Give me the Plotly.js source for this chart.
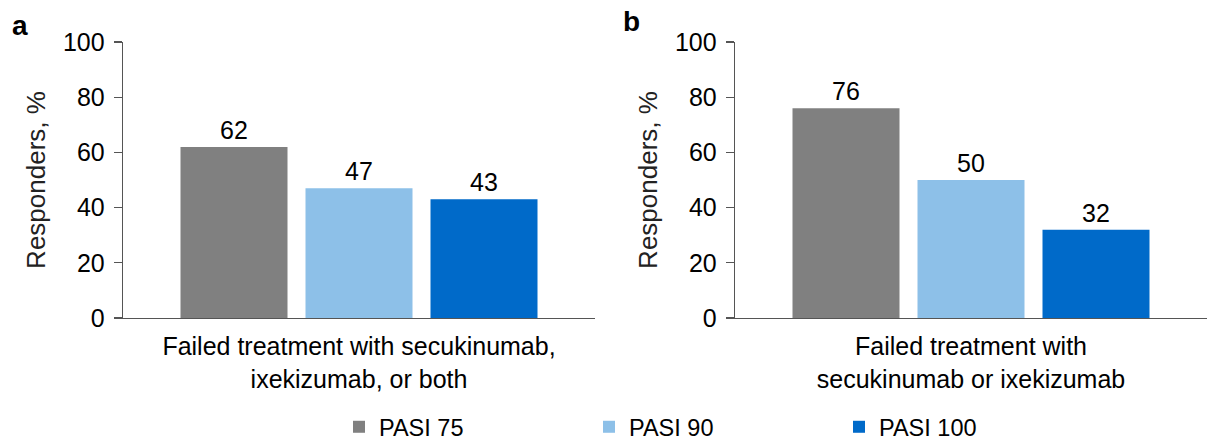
<!DOCTYPE html>
<html>
<head>
<meta charset="utf-8">
<script src="https://cdn.plot.ly/plotly-3.0.1.min.js"></script>
<style>html,body{margin:0;padding:0;background:#fff}#chart{width:1207px;height:444px}</style>
</head>
<body>
<div id="chart"></div>
<script>
// Data
const seriesNames = ['PASI 75', 'PASI 90', 'PASI 100'];
const seriesColors = ['#808080', '#8DC0E8', '#006AC9'];
const catA = ['Failed treatment with secukinumab,<br>ixekizumab, or both'];
const catB = ['Failed treatment with<br>secukinumab or ixekizumab'];
const valuesA = [62, 47, 43];
const valuesB = [76, 50, 32];
const yTickVals = [0, 20, 40, 60, 80, 100];
const yTitle = 'Responders, %';
const panelLabels = ['a', 'b'];

const FONT = '"Liberation Sans", Arial, sans-serif';
const traces = [];
seriesNames.forEach((name, i) => {
  traces.push({
    type: 'bar', name: name, x: catA, y: [valuesA[i]],
    xaxis: 'x', yaxis: 'y',
    marker: {color: seriesColors[i]},
    text: [String(valuesA[i])], textposition: 'outside', cliponaxis: false,
    textfont: {family: FONT, size: 25, color: '#000'},
    legendgroup: name, showlegend: true, hoverinfo: 'none'
  });
  traces.push({
    type: 'bar', name: name, x: catB, y: [valuesB[i]],
    xaxis: 'x2', yaxis: 'y2',
    marker: {color: seriesColors[i]},
    text: [String(valuesB[i])], textposition: 'outside', cliponaxis: false,
    textfont: {family: FONT, size: 25, color: '#000'},
    legendgroup: name, showlegend: false, hoverinfo: 'none'
  });
});

const yDomain = [1 - 318 / 444, 1 - 42 / 444];
function yAxis(anchor) {
  return {
    anchor: anchor, domain: yDomain, range: [0, 100],
    tickvals: yTickVals, ticks: 'outside', ticklen: 8, tickwidth: 1.3, tickcolor: '#555',
    showline: true, linecolor: '#555', linewidth: 1.3,
    showgrid: false, zeroline: false,
    tickfont: {family: FONT, size: 25, color: '#000'}, ticklabelstandoff: 4,
    title: {text: yTitle, font: {family: FONT, size: 26, color: '#222'}, standoff: 10},
    automargin: false, fixedrange: true
  };
}
function xAxis(anchor, domain) {
  return {
    anchor: anchor, domain: domain, showline: true, linecolor: '#555', linewidth: 1.3,
    ticks: '', showgrid: false, zeroline: false,
    tickfont: {family: FONT, size: 25, color: '#000'}, ticklabelstandoff: 6,
    automargin: false, fixedrange: true
  };
}

const layout = {
  width: 1207, height: 444,
  margin: {l: 0, r: 0, t: 0, b: 0, autoexpand: false},
  paper_bgcolor: '#fff', plot_bgcolor: '#fff',
  font: {family: FONT, color: '#000'},
  barmode: 'group', bargap: 0.2055, bargroupgap: 0.144,
  xaxis: xAxis('y', [123 / 1207, 595 / 1207]),
  yaxis: yAxis('x'),
  xaxis2: xAxis('y2', [735 / 1207, 1]),
  yaxis2: yAxis('x2'),
  showlegend: true,
  legend: {
    orientation: 'h', x: 339 / 1207, xanchor: 'left', y: -5 / 444, yanchor: 'bottom',
    font: {family: FONT, size: 23.5, color: '#000'},
    entrywidth: 205, entrywidthmode: 'pixels', traceorder: 'normal',
    bgcolor: 'rgba(0,0,0,0)', borderwidth: 0
  },
  annotations: [
    {text: '<b>' + panelLabels[0] + '</b>', xref: 'paper', yref: 'paper', x: 10 / 1207, y: 1 - 8 / 444,
     xanchor: 'left', yanchor: 'top', showarrow: false, font: {family: FONT, size: 28, color: '#000'}},
    {text: '<b>' + panelLabels[1] + '</b>', xref: 'paper', yref: 'paper', x: 621 / 1207, y: 1 - 4 / 444,
     xanchor: 'left', yanchor: 'top', showarrow: false, font: {family: FONT, size: 28, color: '#000'}}
  ]
};

Plotly.newPlot('chart', traces, layout, {displayModeBar: false, staticPlot: true});
</script>
</body>
</html>
